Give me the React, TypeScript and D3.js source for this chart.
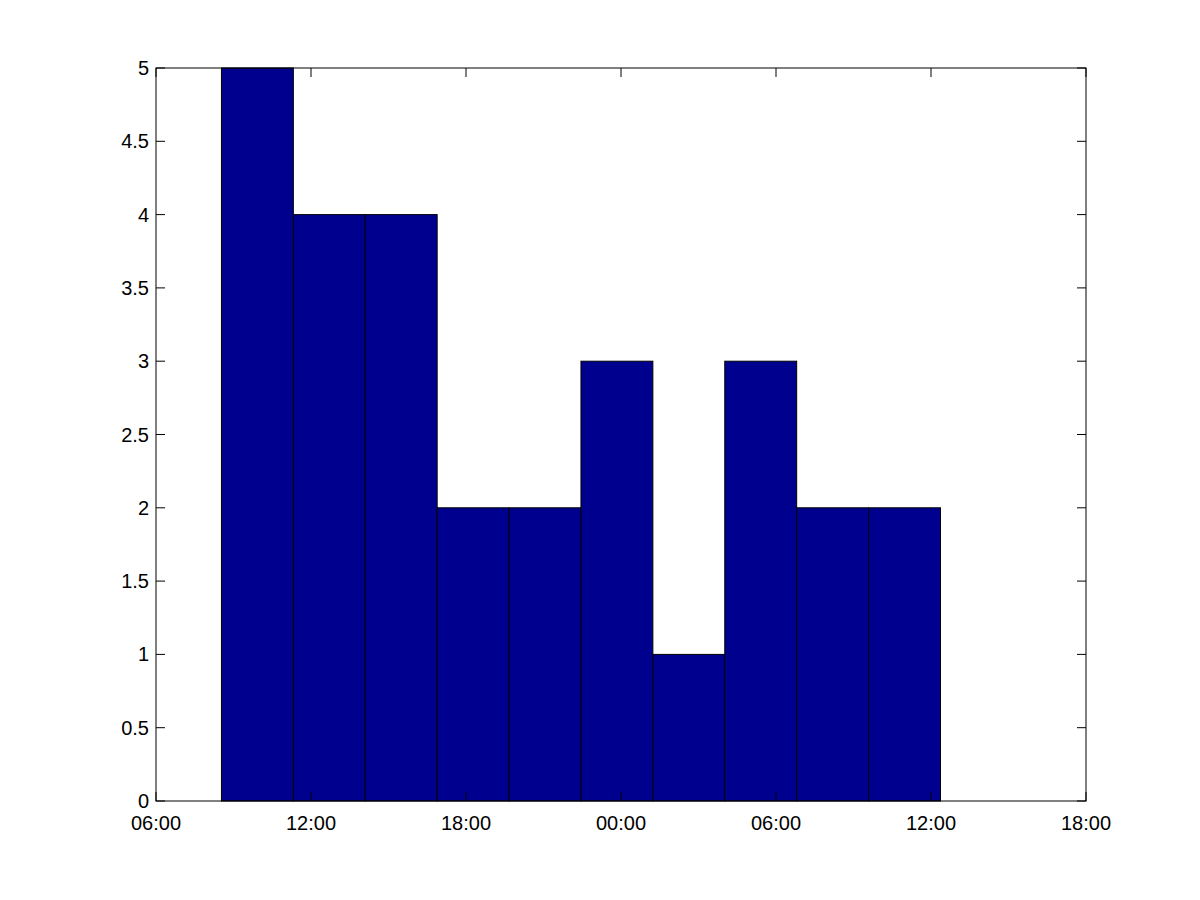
import * as d3 from "d3";
import { useEffect, useRef } from "react";

// histogram bins: start of first bin, bin width, counts per bin
const binStart = "2000-01-01T08:32";
const binWidthMinutes = 167;
const counts = [5, 4, 4, 2, 2, 3, 1, 3, 2, 2];

// axis limits and ticks
const xDomain = ["2000-01-01T06:00", "2000-01-02T18:00"];
const xTicks = [
    "2000-01-01T06:00",
    "2000-01-01T12:00",
    "2000-01-01T18:00",
    "2000-01-02T00:00",
    "2000-01-02T06:00",
    "2000-01-02T12:00",
    "2000-01-02T18:00",
];
const yTicks = [0, 0.5, 1, 1.5, 2, 2.5, 3, 3.5, 4, 4.5, 5];

function Histogram() {
    const ref = useRef<SVGSVGElement>(null);
    const width = 1200;
    const height = 900;

    useEffect(() => {
        const margin = { top: 68, bottom: 99, left: 156, right: 114 };
        const svg = d3.select(ref.current);
        svg.selectAll("*").remove();

        const parse = (s: string) => new Date(s);

        const x = d3.scaleTime()
            .domain(xDomain.map(parse))
            .range([margin.left, width - margin.right]);

        const y = d3.scaleLinear()
            .domain([0, 5])
            .range([height - margin.bottom, margin.top]);

        const start = parse(binStart);
        const bins = counts.map((c, i) => ({
            x0: d3.timeMinute.offset(start, i * binWidthMinutes),
            x1: d3.timeMinute.offset(start, (i + 1) * binWidthMinutes),
            count: c,
        }));

        svg.append("rect")
            .attr("width", width)
            .attr("height", height)
            .attr("fill", "#fff");

        // bars
        svg.append("g")
            .selectAll("rect")
            .data(bins)
            .join("rect")
            .attr("x", (d) => x(d.x0))
            .attr("y", (d) => y(d.count))
            .attr("width", (d) => x(d.x1) - x(d.x0))
            .attr("height", (d) => y(0) - y(d.count))
            .attr("fill", "#00008f")
            .attr("stroke", "#000")
            .attr("stroke-width", 1);

        const x0 = margin.left, x1 = width - margin.right;
        const y0 = height - margin.bottom, y1 = margin.top;
        const tickLen = 9;
        const font = "Liberation Sans, Arial, sans-serif";

        // axes box
        svg.append("rect")
            .attr("x", x0)
            .attr("y", y1)
            .attr("width", x1 - x0)
            .attr("height", y0 - y1)
            .attr("fill", "none")
            .attr("stroke", "#000")
            .attr("stroke-width", 1);

        const ticks = svg.append("g").attr("stroke", "#000").attr("stroke-width", 1);
        const fmt = d3.timeFormat("%H:%M");

        xTicks.map(parse).forEach((t) => {
            const px = x(t);
            ticks.append("line").attr("x1", px).attr("x2", px).attr("y1", y0).attr("y2", y0 - tickLen);
            ticks.append("line").attr("x1", px).attr("x2", px).attr("y1", y1).attr("y2", y1 + tickLen);
            svg.append("text")
                .attr("x", px)
                .attr("y", y0 + 22)
                .attr("dy", "0.35em")
                .attr("text-anchor", "middle")
                .style("font-family", font)
                .style("font-size", "20px")
                .text(fmt(t));
        });

        yTicks.forEach((v) => {
            const py = y(v);
            ticks.append("line").attr("x1", x0).attr("x2", x0 + tickLen).attr("y1", py).attr("y2", py);
            ticks.append("line").attr("x1", x1).attr("x2", x1 - tickLen).attr("y1", py).attr("y2", py);
            svg.append("text")
                .attr("x", x0 - 7)
                .attr("y", py)
                .attr("dy", "0.35em")
                .attr("text-anchor", "end")
                .style("font-family", font)
                .style("font-size", "20px")
                .text(String(v));
        });
    }, []);

    return <svg ref={ref} width={width} height={height} style={{ display: "block" }} />;
}

export default function App() {
    return (
        <div style={{ position: "absolute", left: 0, top: 0 }}>
            <Histogram />
        </div>
    );
}
